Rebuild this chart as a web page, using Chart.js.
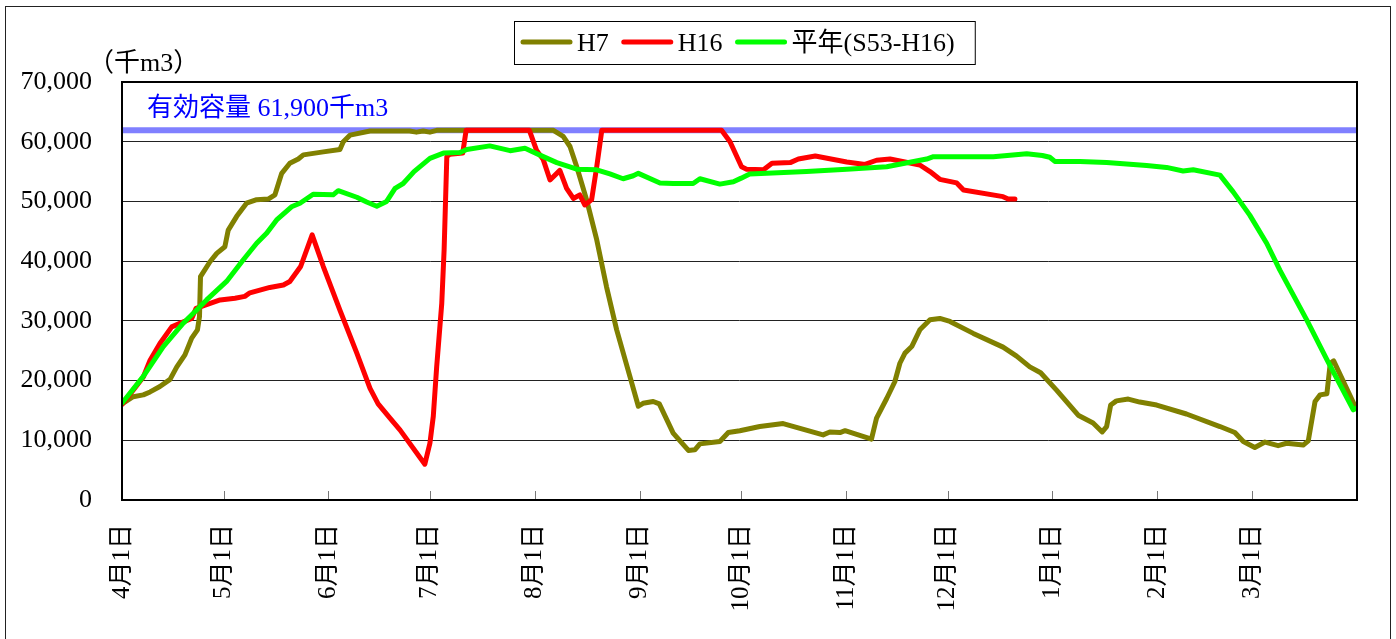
<!DOCTYPE html>
<html><head><meta charset="utf-8">
<script src="https://cdn.jsdelivr.net/npm/chart.js@4/dist/chart.umd.min.js"></script>
<style>html,body{margin:0;padding:0;background:#fff;}canvas{display:block;}</style>
</head><body>
<canvas id="c" width="1396" height="639"></canvas>
<script>
// ---- data ----
const monthStartDays = [0, 30, 61, 91, 122, 153, 183, 214, 244, 275, 306, 334];
const monthLabels = ['4月1日','5月1日','6月1日','7月1日','8月1日','9月1日','10月1日','11月1日','12月1日','1月1日','2月1日','3月1日'];
const yMin = 0, yMax = 70000, yStep = 10000;
const capacity = 61900;
const capacityLabel = '有効容量 61,900千m3';
const unitLabel = '（千m3）';
const seriesLabels = ['H7', 'H16', '平年(S53-H16)'];

const h7Days = [0,3.3,6.3,8.3,11.2,14.2,16.2,18.6,20.6,22.3,22.9,23.2,26,28,30.4,31.4,33.9,36.8,39.8,43.2,45.2,47.2,49.6,52.1,53.6,59.5,64.4,65.4,67.4,73.3,85,87,89,91,93,127.5,130.4,132.4,134.4,137.3,140.3,143.2,146.2,150.1,152.6,154,157,158.8,162.9,167.4,169.3,170.8,176.7,179.2,182.6,188.5,195.4,207.2,209.2,212.2,213.7,221.5,223,226,228.4,229.9,231.4,233.4,235.8,238.8,241.7,244.7,251.6,260.4,264.4,268.3,271.5,276.2,282.6,287,289.7,291,292.2,293.9,297.4,300.8,305.8,314.6,324.5,328.9,331.4,334.8,337.8,341.7,344.2,349.1,350.6,352.6,354.1,356.1,357.1,358.1,364.5];
const h7Values = [16100,17300,17600,18100,19000,20200,22300,24300,27100,28500,30700,37400,39900,41300,42400,45200,47500,49700,50300,50400,51100,54700,56400,57100,57800,58300,58700,60000,61100,61800,61800,61600,61800,61600,61900,61900,60900,59200,55800,50300,43600,35700,28500,20700,15700,16200,16500,16100,11200,8300,8400,9400,9800,11300,11600,12300,12800,10900,11400,11300,11600,10200,13700,17000,19800,22900,24600,25700,28500,30200,30400,29900,27900,25600,24100,22300,21300,18400,14200,12900,11400,12300,15900,16600,16900,16400,15900,14400,12300,11300,9800,8800,9700,9100,9500,9200,9900,16500,17600,17800,22900,23300,15600];

const h16Days = [0,3.3,6.3,8.3,11.2,14.7,17.6,20.6,21.9,25,29,33.4,36.3,37.8,43.7,47.7,49.6,52.8,56.2,59.5,64.4,69.4,73.3,75.7,79.2,82.2,89.5,91,92,93,94.5,95.2,96,96.9,100.7,101.7,120.4,122.5,124.5,126.5,129.4,131.4,133.4,135.3,136.8,138.8,140.3,141.8,177.2,179.7,183.1,184.6,189.6,192.1,197.5,199.9,204.9,214.2,219.6,223,227,235.8,238.8,241.7,246.7,248.7,260.4,261.9,263.9];
const h16Values = [16000,18400,20600,23400,26200,29000,29700,30400,32100,32700,33500,33800,34100,34700,35600,36000,36600,39100,44400,39100,31800,24600,18700,16100,13700,11700,6000,9500,14000,22300,32900,41900,57500,57900,58100,61900,61900,58600,57000,53600,55200,52200,50500,51100,49400,50300,55800,61900,61900,60000,55800,55400,55300,56400,56500,57100,57600,56600,56200,56900,57100,56100,55000,53700,53100,51900,50800,50400,50400];

const avgDays = [0,6.3,12.2,18.1,25,30.9,35.8,39.8,42.8,45.7,50.1,52.6,56.5,62.4,63.9,69.4,72.3,75.3,78.2,80.7,83.1,86.3,91,95,99.9,101.9,108.7,114.7,119.1,124.5,128.5,134.4,140.3,144.2,148.1,151.1,152.6,159,162.9,168.8,170.8,176.7,180.7,183,185.5,202.3,214.2,226,237.8,239.8,257.5,267.4,272,274.2,275.7,283.1,291,302.8,308.7,313.6,316.6,324.5,328.4,333.3,338.3,342.2,350.1,356.1,363.9,365];
const avgValues = [16200,20700,25700,29600,33500,36600,40200,43000,44700,46900,49100,49700,51200,51100,51800,50700,49900,49200,50000,52200,53000,55000,57200,58100,58200,58700,59300,58500,58900,57500,56500,55400,55300,54600,53800,54300,54700,53100,53000,53000,53800,52900,53300,53900,54600,55000,55400,55800,57100,57500,57500,58000,57700,57400,56700,56700,56500,56000,55700,55100,55300,54400,51600,47700,43000,38500,30200,23500,15100,15400];

const capDays = [0, 365];
const capValues = [capacity, capacity];

// ---- build ----
const zip = (xs, ys) => xs.map((x, i) => ({x: x, y: ys[i]}));
const FONT = '"Liberation Serif", "Noto Sans CJK JP", serif';
const colors = ['#808000', '#ff0000', '#00ff00'];

const lineDs = (label, data, color, order) => ({
  label, data, borderColor: color, backgroundColor: color, borderWidth: 5,
  pointRadius: 0, tension: 0, borderJoinStyle: 'round', borderCapStyle: 'round', order
});

const decor = {
  id: 'decor',
  beforeDraw(chart) {
    const ctx = chart.ctx;
    ctx.save(); ctx.fillStyle = '#fff'; ctx.fillRect(0, 0, chart.width, chart.height); ctx.restore();
  },
  afterDraw(chart) {
    const ctx = chart.ctx, a = chart.chartArea, xs = chart.scales.x, ys = chart.scales.y;
    ctx.save();
    // x interior tick marks
    ctx.strokeStyle = '#777'; ctx.lineWidth = 1;
    monthStartDays.forEach(d => {
      const px = Math.round(xs.getPixelForValue(d)) + 0.5;
      ctx.beginPath(); ctx.moveTo(px, a.bottom - 9); ctx.lineTo(px, a.bottom); ctx.stroke();
    });
    // plot border
    ctx.strokeStyle = '#000'; ctx.lineWidth = 2;
    ctx.strokeRect(a.left, a.top, a.right - a.left, a.bottom - a.top);
    // outer border
    ctx.lineWidth = 1; ctx.strokeStyle = '#222';
    ctx.strokeRect(5.5, 6.5, 1385, 700);
    // unit label
    ctx.fillStyle = '#000'; ctx.font = '26px ' + FONT; ctx.textBaseline = 'alphabetic'; ctx.textAlign = 'left';
    ctx.fillText(unitLabel, 88, 71);
    // capacity label
    ctx.fillStyle = '#0000ff';
    ctx.fillText(capacityLabel, a.left + 25, ys.getPixelForValue(capacity) - 14);
    // legend
    ctx.fillStyle = '#000';
    const items = chart.data.datasets.slice(0, 3);
    let widths = items.map(d => ctx.measureText(d.label).width);
    const sample = 51, gapT = 5, gapI = 13, padL = 7, padR = 20;
    const total = padL + items.reduce((s, d, i) => s + sample + gapT + widths[i], 0) + gapI * (items.length - 1) + padR;
    const left = Math.round(744 - total / 2);
    ctx.strokeStyle = '#000'; ctx.lineWidth = 1;
    ctx.strokeRect(left + 0.5, 21.5, total, 43);
    let x = left + padL;
    items.forEach((d, i) => {
      ctx.strokeStyle = d.borderColor; ctx.lineWidth = 5; ctx.lineCap = 'round';
      ctx.beginPath(); ctx.moveTo(x + 2, 42); ctx.lineTo(x + sample - 2, 42); ctx.stroke();
      ctx.fillStyle = '#000';
      ctx.fillText(d.label, x + sample + gapT, 51);
      x += sample + gapT + widths[i] + gapI;
    });
    ctx.restore();
  }
};

new Chart(document.getElementById('c'), {
  type: 'line',
  data: {
    datasets: [
      lineDs(seriesLabels[0], zip(h7Days, h7Values), colors[0], 2),
      lineDs(seriesLabels[1], zip(h16Days, h16Values), colors[1], 1),
      lineDs(seriesLabels[2], zip(avgDays, avgValues), colors[2], 0),
      { label: 'cap', data: zip(capDays, capValues), borderColor: '#8080ff', borderWidth: 6, pointRadius: 0, tension: 0, order: 3, borderCapStyle: 'butt' }
    ]
  },
  options: {
    responsive: false, animation: false, devicePixelRatio: 1,
    layout: { padding: { left: 0, top: 82, right: 39, bottom: 0 } },
    plugins: { legend: { display: false }, tooltip: { enabled: false }, title: { display: false } },
    scales: {
      x: {
        type: 'linear', min: 0, max: 365,
        afterFit(s) { s.height = 139; },
        afterBuildTicks(s) { s.ticks = monthStartDays.map(v => ({ value: v })); },
        grid: { display: false, drawTicks: false },
        border: { display: false },
        ticks: {
          autoSkip: false, minRotation: 90, maxRotation: 90, padding: 24,
          color: '#000', font: { family: FONT, size: 25 },
          callback: (v) => { const i = monthStartDays.indexOf(v); return i >= 0 ? monthLabels[i] : ''; }
        }
      },
      y: {
        min: yMin, max: yMax,
        afterFit(s) { s.width = 122; },
        grid: { color: '#222', lineWidth: 1, drawTicks: false },
        border: { display: false },
        ticks: {
          stepSize: yStep, padding: 30, color: '#000', font: { family: FONT, size: 26 },
          callback: (v) => v.toLocaleString('en-US')
        }
      }
    }
  },
  plugins: [decor]
});
</script>
</body></html>
